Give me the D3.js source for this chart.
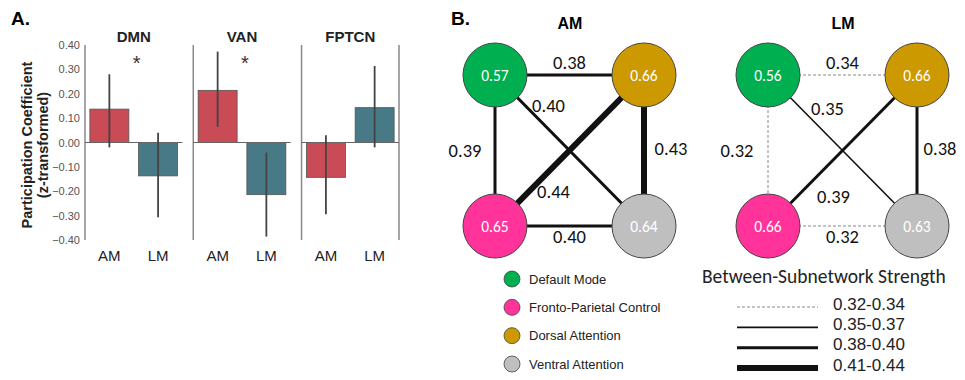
<!DOCTYPE html>
<html>
<head>
<meta charset="utf-8">
<script src="https://cdn.jsdelivr.net/npm/d3@7"></script>
<style>
  body { margin: 0; background: #fff; }
  svg { display: block; }
</style>
</head>
<body>
<svg id="chart" width="965" height="380"></svg>
<script>
// ---------------------------------------------------------------------------
// Data
// ---------------------------------------------------------------------------
const networks = ["DMN", "VAN", "FPTCN"];
const conditions = ["AM", "LM"];
const yTicks = [0.40, 0.30, 0.20, 0.10, 0.00, -0.10, -0.20, -0.30, -0.40];

// participation coefficient per network, [AM, LM]
const pcMeans = [[0.137, -0.137], [0.214, -0.214], [-0.143, 0.143]];
const pcLow = [[-0.02, -0.307], [0.064, -0.386], [-0.294, -0.02]];
const pcHigh = [[0.28, 0.04], [0.373, -0.041], [0.03, 0.314]];
const significant = [true, true, false];

// subnetworks: within-network strength per condition
const subnetworks = ["Default Mode", "Fronto-Parietal Control", "Dorsal Attention", "Ventral Attention"];
const subnetColors = ["#00b050", "#ff3399", "#cc9900", "#bfbfbf"];
const nodeAM = [0.57, 0.65, 0.66, 0.64];
const nodeLM = [0.56, 0.66, 0.66, 0.63];

// edges: [from, to] index into subnetworks
const edgePairs = [[0, 2], [0, 1], [0, 3], [1, 2], [2, 3], [1, 3]];
const edgeAM = [0.38, 0.39, 0.40, 0.44, 0.43, 0.40];
const edgeLM = [0.34, 0.32, 0.35, 0.39, 0.38, 0.32];

const strengthBins = ["0.32-0.34", "0.35-0.37", "0.38-0.40", "0.41-0.44"];

// ---------------------------------------------------------------------------
const svg = d3.select("#chart");
const arial = "Liberation Sans, Arial, sans-serif";
const calibri = "Carlito, 'Open Sans', 'Noto Sans', sans-serif";

// ============================ Panel A ======================================
svg.append("text")
    .attr("x", 11).attr("y", 25)
    .style("font-family", arial)
    .style("font-size", "19px").style("font-weight", "bold")
    .text("A.");

const y = d3.scaleLinear().domain([-0.40, 0.40]).range([240, 45]);
const panelX = d3.scaleBand().domain(networks).range([85, 399]).paddingInner(0.1);
const barColor = d3.scaleOrdinal().domain(conditions).range(["#c84b56", "#477987"]);

// y tick labels
svg.append("g").selectAll("text")
    .data(yTicks)
    .enter().append("text")
    .attr("x", 80)
    .attr("y", d => y(d) + 4)
    .attr("text-anchor", "end")
    .style("font-family", arial)
    .style("font-size", "11px")
    .style("fill", "#555")
    .text(d => d3.format(".2f")(d));

// y axis title
const yt = svg.append("text")
    .attr("transform", `translate(32,145) rotate(-90)`)
    .attr("text-anchor", "middle")
    .style("font-family", arial)
    .style("font-size", "14.5px").style("font-weight", "bold")
    .style("fill", "#222");
yt.append("tspan").attr("x", 0).attr("dy", 0).text("Participation Coefficient");
yt.append("tspan").attr("x", 0).attr("dy", 16).text("(z-transformed)");

networks.forEach((net, ni) => {
    const x0 = panelX(net);
    const w = panelX.bandwidth();
    const x = d3.scaleBand().domain(conditions).range([x0, x0 + w])
        .paddingInner(0.2).paddingOuter(0.1);
    const g = svg.append("g");

    // left spine
    g.append("line")
        .attr("x1", x0).attr("x2", x0)
        .attr("y1", y(0.40)).attr("y2", y(-0.40))
        .attr("stroke", "#888").attr("stroke-width", 1.5);
    if (ni === networks.length - 1) {
        g.append("line")
            .attr("x1", x0 + w).attr("x2", x0 + w)
            .attr("y1", y(0.40)).attr("y2", y(-0.40))
            .attr("stroke", "#888").attr("stroke-width", 1.5);
    }

    // bars
    conditions.forEach((c, ci) => {
        const v = pcMeans[ni][ci];
        g.append("rect")
            .attr("x", x(c))
            .attr("y", y(Math.max(0, v)))
            .attr("width", x.bandwidth())
            .attr("height", Math.abs(y(v) - y(0)))
            .attr("fill", barColor(c))
            .attr("stroke", "#555")
            .attr("stroke-width", 0.8);
    });

    // zero line
    g.append("line")
        .attr("x1", x0).attr("x2", x0 + w)
        .attr("y1", y(0)).attr("y2", y(0))
        .attr("stroke", "#666").attr("stroke-width", 1.2);

    // error bars
    conditions.forEach((c, ci) => {
        const cx = x(c) + x.bandwidth() / 2;
        g.append("line")
            .attr("x1", cx).attr("x2", cx)
            .attr("y1", y(pcHigh[ni][ci])).attr("y2", y(pcLow[ni][ci]))
            .attr("stroke", "#444").attr("stroke-width", 1.8);
        g.append("text")
            .attr("x", cx).attr("y", 261)
            .attr("text-anchor", "middle")
            .style("font-family", arial)
            .style("font-size", "15px")
            .style("fill", "#222")
            .text(c);
    });

    // title
    g.append("text")
        .attr("x", x0 + w / 2).attr("y", 42)
        .attr("text-anchor", "middle")
        .style("font-family", arial)
        .style("font-size", "15px").style("font-weight", "bold")
        .style("fill", "#222")
        .text(net);

    if (significant[ni]) {
        g.append("text")
            .attr("x", x0 + w / 2 + 3).attr("y", 70)
            .attr("text-anchor", "middle")
            .style("font-family", arial)
            .style("font-size", "20px")
            .style("fill", "#333")
            .text("*");
    }
});

// ============================ Panel B ======================================
svg.append("text")
    .attr("x", 451).attr("y", 25)
    .style("font-family", arial)
    .style("font-size", "19px").style("font-weight", "bold")
    .text("B.");

const binOf = v => v <= 0.345 ? 0 : v <= 0.375 ? 1 : v <= 0.405 ? 2 : 3;
const binWidth = [1, 1.6, 3, 6];
const binColor = ["#888", "#111", "#111", "#111"];
const binDash = ["3,2", null, null, null];

// node grid position (col,row) for each subnetwork
const nodeCol = [0, 0, 1, 1];
const nodeRow = [0, 1, 0, 1];
const nodeR = 32;
const gx = d3.scaleLinear().domain([0, 1]);
const gy = d3.scaleLinear().domain([0, 1]).range([75, 226]);

// label position per edge: [dx, dy] offsets from the edge midpoint
const labelOffsetAM = [[0, -13], [-30, 0], [-21, -45], [-16, 41], [27, -2], [0, 10]];
const labelOffsetLM = [[0, -13], [-31, 0], [-15, -42], [-9, 46], [23, -2], [0, 10]];

function drawNetwork(title, cx0, nodeVals, edgeVals, labelOffsets) {
    gx.range([cx0, cx0 + 149]);
    const g = svg.append("g");
    const px = i => gx(nodeCol[i]);
    const py = i => gy(nodeRow[i]);

    g.append("text")
        .attr("x", cx0 + 75).attr("y", 29)
        .attr("text-anchor", "middle")
        .style("font-family", arial)
        .style("font-size", "16px").style("font-weight", "bold")
        .text(title);

    edgePairs.forEach((p, i) => {
        const b = binOf(edgeVals[i]);
        g.append("line")
            .attr("x1", px(p[0])).attr("y1", py(p[0]))
            .attr("x2", px(p[1])).attr("y2", py(p[1]))
            .attr("stroke", binColor[b])
            .attr("stroke-width", binWidth[b])
            .attr("stroke-dasharray", binDash[b]);
    });

    edgePairs.forEach((p, i) => {
        const mx = (px(p[0]) + px(p[1])) / 2 + labelOffsets[i][0];
        const my = (py(p[0]) + py(p[1])) / 2 + labelOffsets[i][1];
        g.append("text")
            .attr("x", mx).attr("y", my)
            .attr("text-anchor", "middle")
            .attr("dominant-baseline", "central")
            .style("font-family", calibri)
            .style("font-size", "18.5px")
            .style("fill", "#111")
            .text(d3.format(".2f")(edgeVals[i]));
    });

    subnetworks.forEach((s, i) => {
        g.append("circle")
            .attr("cx", px(i)).attr("cy", py(i)).attr("r", nodeR)
            .attr("fill", subnetColors[i])
            .attr("stroke", "#444").attr("stroke-width", 1);
        g.append("text")
            .attr("x", px(i)).attr("y", py(i))
            .attr("text-anchor", "middle")
            .attr("dominant-baseline", "central")
            .style("font-family", calibri)
            .style("font-size", "15.5px")
            .style("fill", "#fff")
            .text(d3.format(".2f")(nodeVals[i]));
    });
}

drawNetwork("AM", 495, nodeAM, edgeAM, labelOffsetAM);
drawNetwork("LM", 768, nodeLM, edgeLM, labelOffsetLM);

// subnetwork legend
const legY = d3.scalePoint().domain(subnetworks).range([279, 364]);
const leg = svg.append("g");
subnetworks.forEach((s, i) => {
    leg.append("circle")
        .attr("cx", 512).attr("cy", legY(s)).attr("r", 8)
        .attr("fill", subnetColors[i])
        .attr("stroke", "#444").attr("stroke-width", 0.8);
    leg.append("text")
        .attr("x", 529).attr("y", legY(s))
        .attr("dominant-baseline", "central")
        .style("font-family", arial)
        .style("font-size", "13px")
        .style("fill", "#222")
        .text(s);
});

// strength legend
svg.append("text")
    .attr("x", 702).attr("y", 276)
    .attr("dominant-baseline", "central")
    .style("font-family", calibri)
    .style("font-size", "19.5px")
    .style("fill", "#222")
    .text("Between-Subnetwork Strength");

const strY = d3.scalePoint().domain(strengthBins).range([306, 367]);
strengthBins.forEach((s, b) => {
    svg.append("line")
        .attr("x1", 737).attr("x2", 818)
        .attr("y1", strY(s) + 1).attr("y2", strY(s) + 1)
        .attr("stroke", binColor[b])
        .attr("stroke-width", binWidth[b])
        .attr("stroke-dasharray", binDash[b]);
    svg.append("text")
        .attr("x", 833).attr("y", strY(s) - 2)
        .attr("dominant-baseline", "central")
        .style("font-family", arial)
        .style("font-size", "17px")
        .style("fill", "#222")
        .text(s);
});
</script>
</body>
</html>
